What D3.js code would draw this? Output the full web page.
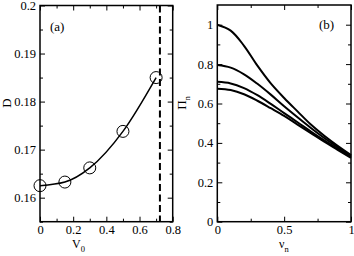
<!DOCTYPE html>
<meta charset="utf-8">
<style>
body { margin: 0; background: #fff; }
svg { font-family: "Liberation Serif", "Times New Roman", serif; }
.axis path { display: none; }
.axis line { stroke: #000; stroke-width: 1; }
.axis text { font-size: 12.5px; fill: #000; font-family: "Liberation Serif", serif; }
</style>
<body>
<svg width="354" height="256"></svg>
<script src="https://d3js.org/d3.v7.min.js"></script>
<script>

// panel (a): D vs V0
var v0 = [0, 0.15, 0.3, 0.5, 0.7];
var dVals = [0.1625, 0.16325, 0.1662, 0.1738, 0.185];
var vCrit = 0.723;

// panel (b): Pi_n vs nu_n, four curves
var nu = [0, 0.1, 0.2, 0.3, 0.4, 0.5, 0.6, 0.7, 0.8, 0.9, 1.0];
var pi1 = [1.0, 0.97, 0.893, 0.792, 0.702, 0.628, 0.56, 0.493, 0.436, 0.385, 0.338];
var pi2 = [0.795, 0.782, 0.748, 0.70, 0.645, 0.586, 0.53, 0.476, 0.425, 0.378, 0.334];
var pi3 = [0.71, 0.702, 0.678, 0.642, 0.598, 0.551, 0.505, 0.458, 0.413, 0.37, 0.329];
var pi4 = [0.675, 0.668, 0.647, 0.614, 0.576, 0.537, 0.493, 0.45, 0.406, 0.365, 0.324];

var xTicksA = [0, 0.2, 0.4, 0.6, 0.8];
var yTicksA = [0.16, 0.17, 0.18, 0.19, 0.2];
var xTicksB = [0, 0.5, 1];
var yTicksB = [0, 0.2, 0.4, 0.6, 0.8, 1];

var svg = d3.select("svg");

function frame(g, x, y, xt, xm, yt, ym, xf, yf) {
    var w = x.range()[1] - x.range()[0], h = y.range()[0] - y.range()[1];
    // bottom
    g.append("g").attr("class", "axis").attr("transform", "translate(0," + y.range()[0] + ")")
        .call(d3.axisBottom(x).tickValues(xt).tickSizeInner(-5).tickPadding(3).tickFormat(xf));
    g.append("g").attr("class", "axis").attr("transform", "translate(0," + y.range()[0] + ")")
        .call(d3.axisBottom(x).tickValues(xm).tickSizeInner(-3).tickFormat(""));
    // top
    g.append("g").attr("class", "axis").attr("transform", "translate(0," + y.range()[1] + ")")
        .call(d3.axisTop(x).tickValues(xt).tickSizeInner(-5).tickFormat(""));
    g.append("g").attr("class", "axis").attr("transform", "translate(0," + y.range()[1] + ")")
        .call(d3.axisTop(x).tickValues(xm).tickSizeInner(-3).tickFormat(""));
    // left
    g.append("g").attr("class", "axis").attr("transform", "translate(" + x.range()[0] + ",0)")
        .call(d3.axisLeft(y).tickValues(yt).tickSizeInner(-5).tickPadding(4).tickFormat(yf));
    g.append("g").attr("class", "axis").attr("transform", "translate(" + x.range()[0] + ",0)")
        .call(d3.axisLeft(y).tickValues(ym).tickSizeInner(-3).tickFormat(""));
    // right
    g.append("g").attr("class", "axis").attr("transform", "translate(" + x.range()[1] + ",0)")
        .call(d3.axisRight(y).tickValues(yt).tickSizeInner(-5).tickFormat(""));
    g.append("g").attr("class", "axis").attr("transform", "translate(" + x.range()[1] + ",0)")
        .call(d3.axisRight(y).tickValues(ym).tickSizeInner(-3).tickFormat(""));
    g.append("rect")
        .attr("x", x.range()[0]).attr("y", y.range()[1])
        .attr("width", w).attr("height", h)
        .attr("fill", "none").attr("stroke", "#000").attr("stroke-width", 1.5);
}

// ---- panel a
var xa = d3.scaleLinear().domain([0, 0.8]).range([40, 172.7]);
var ya = d3.scaleLinear().domain([0.155, 0.2]).range([221.7, 5.5]);
var ga = svg.append("g");

frame(ga, xa, ya, xTicksA, [0.1, 0.3, 0.5, 0.7], yTicksA, [0.155, 0.165, 0.175, 0.185, 0.195],
    function(d) { return d === 0 ? "0" : d3.format(".1f")(d); },
    function(d) { return d3.format(".2f")(d).replace(/0$/, "") ; });

var ptsA = v0.map(function(d, i) { return [d, dVals[i]]; });
ga.append("path")
    .datum(ptsA)
    .attr("fill", "none")
    .attr("stroke", "#000")
    .attr("stroke-width", 1.5)
    .attr("d", d3.line().x(function(d) { return xa(d[0]); }).y(function(d) { return ya(d[1]); }).curve(d3.curveMonotoneX));

ga.selectAll("circle")
    .data(ptsA)
    .enter().append("circle")
    .attr("cx", function(d) { return xa(d[0]); })
    .attr("cy", function(d) { return ya(d[1]); })
    .attr("r", 6)
    .attr("fill", "none")
    .attr("stroke", "#000")
    .attr("stroke-width", 1);

ga.append("line")
    .attr("x1", xa(vCrit)).attr("x2", xa(vCrit))
    .attr("y1", ya.range()[1]).attr("y2", ya.range()[0])
    .attr("stroke", "#000").attr("stroke-width", 2)
    .attr("stroke-dasharray", "7,3.5");

ga.append("text").attr("x", 50).attr("y", 31).attr("font-size", 13).text("(a)");
ga.append("text").attr("transform", "translate(11,103) rotate(-90)")
    .attr("text-anchor", "middle").attr("font-size", 13).text("D");
var va = ga.append("text").attr("x", 72).attr("y", 248).attr("font-size", 12);
va.append("tspan").text("V");
va.append("tspan").attr("font-size", 8.5).attr("dy", 4).text("0");

// ---- panel b
var xb = d3.scaleLinear().domain([0, 1]).range([217.3, 351]);
var yb = d3.scaleLinear().domain([0, 1.1]).range([221.7, 5]);
var gb = svg.append("g");

frame(gb, xb, yb, xTicksB, [0.25, 0.75], yTicksB, [0.1, 0.3, 0.5, 0.7, 0.9],
    function(d) { return d3.format("")(d); },
    function(d) { return d3.format("")(d); });

var lineB = d3.line()
    .x(function(d, i) { return xb(nu[i]); })
    .y(function(d) { return yb(d); })
    .curve(d3.curveCatmullRom.alpha(0.5));

[pi1, pi2, pi3, pi4].forEach(function(s) {
    gb.append("path")
        .datum(s)
        .attr("fill", "none")
        .attr("stroke", "#000")
        .attr("stroke-width", 2)
        .attr("d", lineB);
});

gb.append("text").attr("x", 319).attr("y", 29).attr("font-size", 13).text("(b)");
var pl = gb.append("text").attr("transform", "translate(186,103) rotate(-90)")
    .attr("text-anchor", "middle").attr("font-size", 13);
pl.append("tspan").text("\u03a0");
pl.append("tspan").attr("font-size", 8.5).attr("dy", 4).text("n");
var nl = gb.append("text").attr("x", 279).attr("y", 248).attr("font-size", 12);
nl.append("tspan").text("\u03bd");
nl.append("tspan").attr("font-size", 8.5).attr("dy", 4).text("n");

</script>
